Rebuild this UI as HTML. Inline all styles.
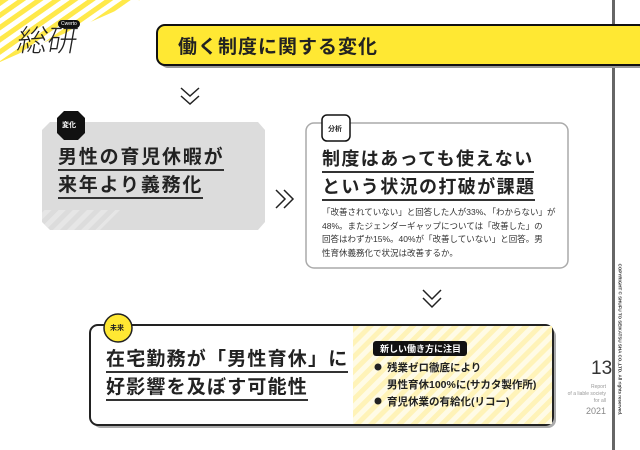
<!DOCTYPE html>
<html><head><meta charset="utf-8"><style>
*{margin:0;padding:0;box-sizing:border-box}
body{width:640px;height:450px;background:#fff;position:relative;overflow:hidden;font-family:"Liberation Sans","Noto Sans CJK JP",sans-serif;color:#222}
.a{position:absolute}
.h{font-weight:bold;font-size:19px;letter-spacing:1.8px;line-height:28px;white-space:nowrap}
.u{border-bottom:2px solid #333;display:inline-block;line-height:23px}
.b{font-weight:bold;font-size:10.5px;white-space:nowrap}
</style></head><body>
<svg class="a" style="left:0;top:0" width="640" height="450">
<defs>
<pattern id="ys" width="10" height="10" patternUnits="userSpaceOnUse" patternTransform="rotate(-35)"><rect width="10" height="5" fill="#ffe94a"/></pattern>
<pattern id="ly" width="10" height="10" patternUnits="userSpaceOnUse" patternTransform="rotate(-45)"><rect width="10" height="10" fill="#fffbe6"/><rect width="10" height="5" fill="#fff3b8"/></pattern>
<pattern id="gs" width="10" height="10" patternUnits="userSpaceOnUse" patternTransform="rotate(-45)"><rect width="10" height="5" fill="#e8e8e8"/></pattern>
</defs>
<polygon points="0,0 140,0 0,62" fill="url(#ys)"/>
<rect x="612" y="0" width="3" height="450" fill="#666"/>
<rect x="160" y="28" width="490" height="40" rx="8" fill="#999"/>
<rect x="157" y="25" width="490" height="40" rx="8" fill="#ffe833" stroke="#111" stroke-width="2"/>
<polyline points="181,88 190,96 199,88" fill="none" stroke="#222" stroke-width="1.5"/>
<polyline points="181,96 190,104 199,96" fill="none" stroke="#222" stroke-width="1.5"/>
<polygon points="50,122 258,122 265,130 265,222 258,230 50,230 42,222 42,130" fill="#dcdcdc"/>
<polygon points="42,210 120,210 100,230 50,230 42,222" fill="url(#gs)" opacity=".8"/>
<polygon points="64,111 78,111 85,118 85,133 78,140 64,140 57,133 57,118" fill="#111"/>
<polyline points="276,190 285,199 276,208" fill="none" stroke="#222" stroke-width="1.5"/>
<polyline points="284,190 293,199 284,208" fill="none" stroke="#222" stroke-width="1.5"/>
<rect x="306" y="123" width="262" height="145" rx="8" fill="#fff" stroke="#aaa" stroke-width="1.5"/>
<rect x="322" y="115" width="28" height="26" rx="5" fill="#fff" stroke="#111" stroke-width="1.5"/>
<polyline points="423,290 432,299 441,290" fill="none" stroke="#222" stroke-width="1.5"/>
<polyline points="423,298 432,307 441,298" fill="none" stroke="#222" stroke-width="1.5"/>
<rect x="93" y="328" width="463" height="100" rx="8" fill="#aaa"/>
<rect x="90" y="325" width="463" height="100" rx="8" fill="#fff" stroke="#222" stroke-width="2"/>
<rect x="353" y="326" width="199" height="98" fill="url(#ly)"/>
<circle cx="118" cy="328" r="14" fill="#ffe833" stroke="#222" stroke-width="1.5"/>
<rect x="373" y="341" width="94" height="15" rx="3" fill="#111"/>
<circle cx="378" cy="367" r="3.5" fill="#222"/>
<circle cx="378" cy="401" r="3.5" fill="#222"/>
</svg>
<div class="a" style="left:18px;top:16px;font-size:30px;font-family:'Noto Sans CJK JP',sans-serif;font-weight:300;transform:skewX(-10deg)">総研</div>
<div class="a" style="left:58px;top:20px;background:#111;color:#fff;border-radius:5px;font-size:5px;padding:1px 3px">Cwerto</div>
<div class="a" style="left:178px;top:32px;font-size:19px;font-weight:bold;letter-spacing:1px">働く制度に関する変化</div>
<div class="a" style="left:62px;top:120px;color:#fff;font-size:7px;font-weight:bold">変化</div>
<div class="a h" style="left:58px;top:144px"><span class="u">男性の育児休暇が</span><br><span class="u">来年より義務化</span></div>
<div class="a" style="left:328px;top:124px;font-size:7px;font-weight:bold">分析</div>
<div class="a h" style="left:322px;top:145px;font-size:18px;letter-spacing:1.4px"><span class="u">制度はあっても使えない</span><br><span class="u">という状況の打破が課題</span></div>
<div class="a" style="left:322px;top:206px;font-size:8.5px;line-height:13.5px;color:#333;white-space:nowrap">「改善されていない」と回答した人が33%､「わからない」が<br>48%。またジェンダーギャップについては「改善した」の<br>回答はわずか15%。40%が「改善していない」と回答。男<br>性育休義務化で状況は改善するか。</div>
<div class="a" style="left:110px;top:323px;font-size:7px;font-weight:bold">未来</div>
<div class="a h" style="left:106px;top:346px;letter-spacing:1.2px"><span class="u">在宅勤務が「男性育休」に</span><br><span class="u">好影響を及ぼす可能性</span></div>
<div class="a" style="left:380px;top:342px;color:#fff;font-size:9px;font-weight:bold">新しい働き方に注目</div>
<div class="a b" style="left:387px;top:360px">残業ゼロ徹底により</div>
<div class="a b" style="left:387px;top:377px">男性育休100%に(サカタ製作所)</div>
<div class="a b" style="left:387px;top:394px">育児休業の有給化(リコー)</div>
<div class="a" style="left:591px;top:358px;font-size:19px;font-weight:300;color:#333">13</div>
<div class="a" style="left:560px;top:384px;width:46px;text-align:right;font-size:5px;line-height:7px;color:#999">Report<br>of a liable society<br>for all</div>
<div class="a" style="left:586px;top:406px;font-size:9px;color:#888">2021</div>
<div class="a" style="left:560px;top:321px;width:120px;font-size:4.5px;font-weight:bold;color:#333;transform:rotate(90deg);white-space:nowrap">COPYRIGHT © SHUFU TO SEIKATSU SHA CO.,LTD. All rights reserved.</div>
</body></html>
